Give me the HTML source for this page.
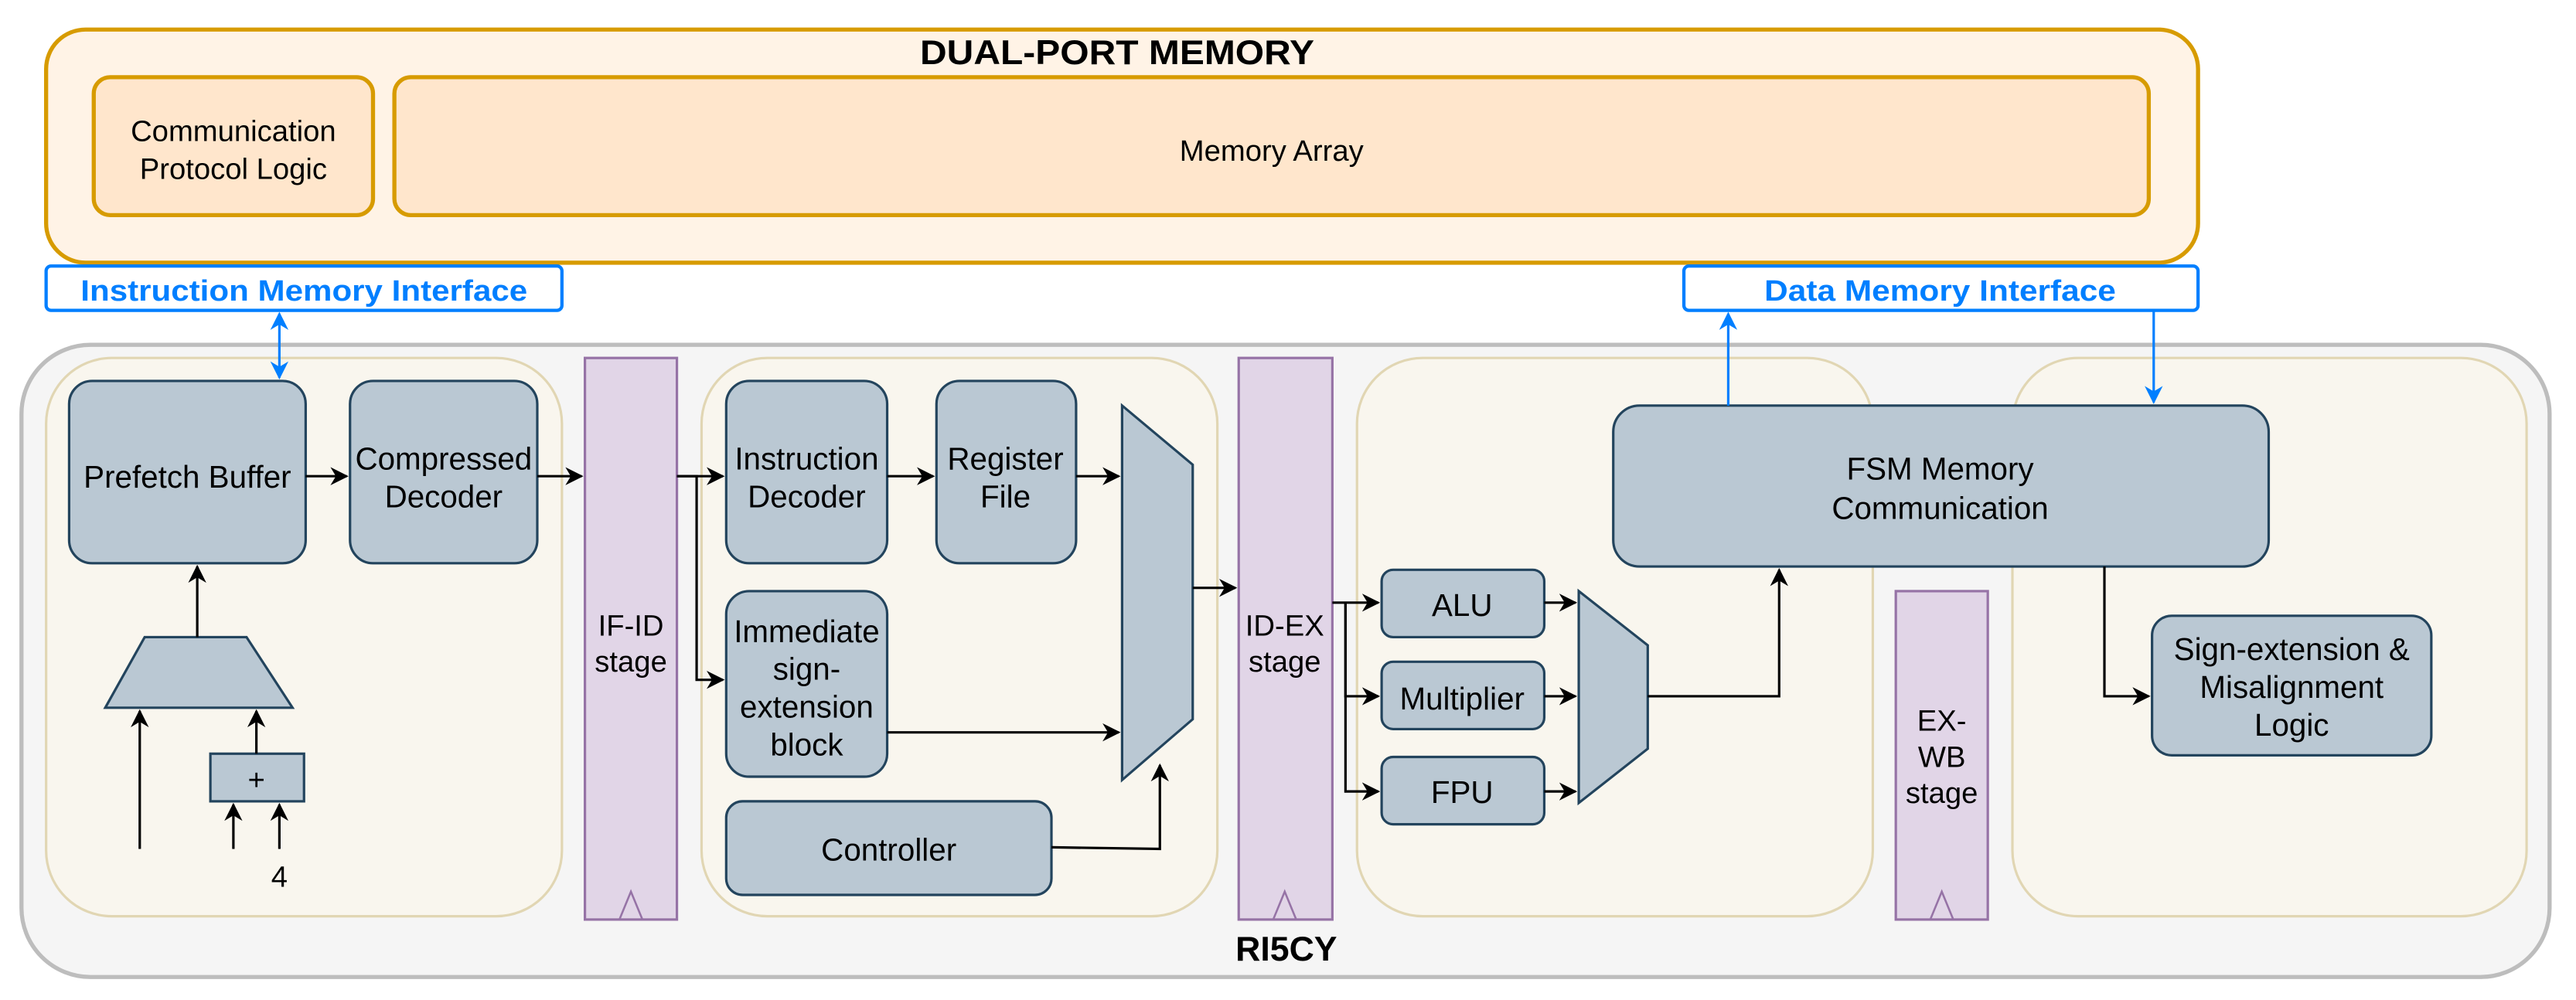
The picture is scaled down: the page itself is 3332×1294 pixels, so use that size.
<!DOCTYPE html>
<html><head><meta charset="utf-8"><style>html,body{margin:0;padding:0;background:#fff}svg{display:block}</style></head>
<body>
<svg width="3332" height="1294" viewBox="0 0 1568 609" xmlns="http://www.w3.org/2000/svg" font-family="Liberation Sans, sans-serif">
<defs>
<marker id="a" viewBox="0 0 10 10" refX="9" refY="5" markerWidth="11" markerHeight="11" orient="auto" markerUnits="userSpaceOnUse"><path d="M0,0 L10,5 L0,10 L3,5 Z" fill="#000"/></marker>
<marker id="b" viewBox="0 0 10 10" refX="9" refY="5" markerWidth="11" markerHeight="11" orient="auto-start-reverse" markerUnits="userSpaceOnUse"><path d="M0,0 L10,5 L0,10 L3,5 Z" fill="#007fff"/></marker>
</defs>
<rect x="28" y="18" width="1310" height="142" rx="24" fill="#fff3e6" stroke="#d79b00" stroke-width="2.5"/>
<text x="680" y="39" text-anchor="middle" font-size="21" font-weight="bold" textLength="240" lengthAdjust="spacingAndGlyphs">DUAL-PORT MEMORY</text>
<rect x="57" y="47" width="170" height="84" rx="10" fill="#ffe6cc" stroke="#d79b00" stroke-width="2.5"/>
<text x="142" y="86" text-anchor="middle" font-size="18">Communication</text>
<text x="142" y="109" text-anchor="middle" font-size="18">Protocol Logic</text>
<rect x="240" y="47" width="1068" height="84" rx="10" fill="#ffe6cc" stroke="#d79b00" stroke-width="2.5"/>
<text x="774" y="98" text-anchor="middle" font-size="18">Memory Array</text>
<rect x="28" y="162" width="314" height="27" rx="3" fill="#fff" stroke="#007fff" stroke-width="2"/>
<text x="185" y="183" text-anchor="middle" font-size="18" font-weight="bold" fill="#007fff" textLength="272" lengthAdjust="spacingAndGlyphs">Instruction Memory Interface</text>
<rect x="1025" y="162" width="313" height="27" rx="3" fill="#fff" stroke="#007fff" stroke-width="2"/>
<text x="1181" y="183" text-anchor="middle" font-size="18" font-weight="bold" fill="#007fff" textLength="214" lengthAdjust="spacingAndGlyphs">Data Memory Interface</text>
<rect x="13" y="210" width="1539" height="385" rx="42" fill="#f5f5f5" stroke="#bdbdbd" stroke-width="2.5"/>
<text x="783" y="585" text-anchor="middle" font-size="21" font-weight="bold">RI5CY</text>
<g fill="#f9f6ee" stroke="#e1d6b3" stroke-width="1.5">
<rect x="28" y="218" width="314" height="340" rx="40"/>
<rect x="427" y="218" width="314" height="340" rx="40"/>
<rect x="826" y="218" width="314" height="340" rx="40"/>
<rect x="1225" y="218" width="313" height="340" rx="40"/>
</g>
<g fill="#e1d5e7" stroke="#9673a6" stroke-width="1.5">
<rect x="356" y="218" width="56" height="342"/>
<rect x="754" y="218" width="57" height="342"/>
<rect x="1154" y="360" width="56" height="200"/>
</g>
<g fill="none" stroke="#9673a6" stroke-width="1.2">
<path d="M377,560 L384,543 L391,560"/><path d="M775,560 L782,543 L789,560"/><path d="M1175,560 L1182,543 L1189,560"/>
</g>
<g font-size="18" text-anchor="middle">
<text x="384" y="387">IF-ID</text><text x="384" y="409">stage</text>
<text x="782" y="387">ID-EX</text><text x="782" y="409">stage</text>
<text x="1182" y="445">EX-</text><text x="1182" y="467">WB</text><text x="1182" y="489">stage</text>
</g>
<g fill="#bac8d3" stroke="#23445d" stroke-width="1.5">
<rect x="42" y="232" width="144" height="111" rx="14"/>
<rect x="213" y="232" width="114" height="111" rx="14"/>
<rect x="442" y="232" width="98" height="111" rx="14"/>
<rect x="570" y="232" width="85" height="111" rx="14"/>
<rect x="442" y="360" width="98" height="113" rx="14"/>
<rect x="442" y="488" width="198" height="57" rx="10"/>
<path d="M683,247 L726,283 L726,438 L683,475 Z"/>
<rect x="841" y="347" width="99" height="41" rx="7"/>
<rect x="841" y="403" width="99" height="41" rx="7"/>
<rect x="841" y="461" width="99" height="41" rx="7"/>
<path d="M961,360 L1003,393 L1003,456 L961,489 Z"/>
<rect x="982" y="247" width="399" height="98" rx="16"/>
<rect x="1310" y="375" width="170" height="85" rx="12"/>
<path d="M88,388 L150,388 L178,431 L64,431 Z"/>
<rect x="128" y="459" width="57" height="29"/>
</g>
<g font-size="19" text-anchor="middle">
<text x="114" y="297">Prefetch Buffer</text>
<text x="270" y="286">Compressed</text><text x="270" y="309">Decoder</text>
<text x="491" y="286">Instruction</text><text x="491" y="309">Decoder</text>
<text x="612" y="286">Register</text><text x="612" y="309">File</text>
<text x="491" y="391">Immediate</text><text x="491" y="414">sign-</text><text x="491" y="437">extension</text><text x="491" y="460">block</text>
<text x="541" y="524">Controller</text>
<text x="890" y="375">ALU</text><text x="890" y="432">Multiplier</text><text x="890" y="489">FPU</text>
<text x="1181" y="292">FSM Memory</text><text x="1181" y="316">Communication</text>
<text x="1395" y="402">Sign-extension &amp;</text><text x="1395" y="425">Misalignment</text><text x="1395" y="448">Logic</text>
<text x="156" y="481" font-size="18">+</text>
<text x="170" y="540" font-size="18">4</text>
</g>
<g stroke="#000" stroke-width="1.5" fill="none" marker-end="url(#a)">
<path d="M120,388 L120,345"/>
<path d="M85,517 L85,433"/>
<path d="M156,459 L156,433"/>
<path d="M142,517 L142,490"/>
<path d="M170,517 L170,490"/>
<path d="M186,290 L211,290"/>
<path d="M327,290 L354,290"/>
<path d="M412,290 L440,290"/>
<path d="M412,290 L424,290 L424,414 L440,414"/>
<path d="M540,290 L568,290"/>
<path d="M655,290 L681,290"/>
<path d="M540,446 L681,446"/>
<path d="M640,516 L706,517 L706,466"/>
<path d="M726,358 L752,358"/>
<path d="M811,367 L839,367"/>
<path d="M819,367 L819,424 L839,424"/>
<path d="M819,367 L819,482 L839,482"/>
<path d="M940,367 L959,367"/>
<path d="M940,424 L959,424"/>
<path d="M940,482 L959,482"/>
<path d="M1003,424 L1083,424 L1083,347"/>
<path d="M1281,345 L1281,424 L1308,424"/>
</g>
<g stroke="#007fff" stroke-width="1.5" fill="none">
<path d="M170,191 L170,230" marker-end="url(#b)" marker-start="url(#b)"/>
<path d="M1052,247 L1052,191" marker-end="url(#b)"/>
<path d="M1311,189 L1311,245" marker-end="url(#b)"/>
</g>
</svg>
</body></html>
